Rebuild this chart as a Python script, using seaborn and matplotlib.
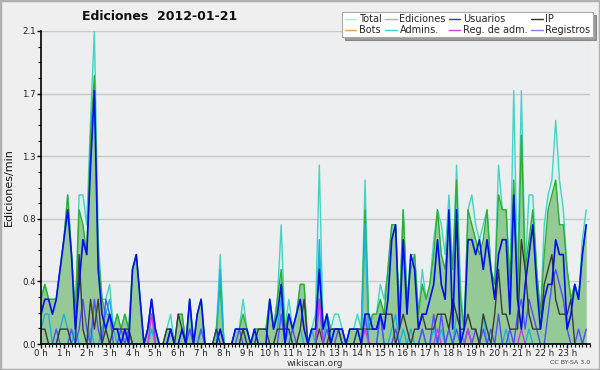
"""
Edits per minute on 2012-01-21 (wikiscan style), 10-minute buckets.
"""
import numpy as np
import pandas as pd
import matplotlib
matplotlib.use("Agg")
import matplotlib.pyplot as plt
import seaborn as sns
from matplotlib.lines import Line2D
from matplotlib.patches import Rectangle
from matplotlib.ticker import MultipleLocator, FixedLocator

sns.set_style("ticks")
plt.rcParams["font.family"] = ["DejaVu Sans"]

# ---------------------------------------------------------------
# data: edits/min, one value per 10 minutes (144 buckets)
# ---------------------------------------------------------------
hour_labels = [f"{h} h" for h in range(24)]
minutes = np.arange(0, 1440, 10)

total = [
    0.3, 0.4, 0.3, 0.3, 0.3, 0.5, 0.7, 1.0, 0.6, 0.2, 1.0, 1.0,
    0.8, 1.5, 2.1, 0.7, 0.3, 0.3, 0.4, 0.1, 0.2, 0.1, 0.2, 0.1,
    0.5, 0.6, 0.3, 0.0, 0.1, 0.3, 0.1, 0.0, 0.0, 0.1, 0.2, 0.0,
    0.2, 0.2, 0.0, 0.3, 0.0, 0.2, 0.3, 0.0, 0.0, 0.0, 0.1, 0.6,
    0.0, 0.0, 0.0, 0.1, 0.1, 0.3, 0.1, 0.0, 0.1, 0.1, 0.1, 0.1,
    0.3, 0.1, 0.3, 0.8, 0.1, 0.3, 0.1, 0.2, 0.4, 0.4, 0.0, 0.1,
    0.2, 1.2, 0.1, 0.2, 0.1, 0.2, 0.2, 0.1, 0.0, 0.1, 0.1, 0.2,
    0.1, 1.1, 0.1, 0.2, 0.2, 0.4, 0.3, 0.5, 0.8, 0.8, 0.2, 0.9,
    0.3, 0.6, 0.6, 0.2, 0.5, 0.3, 0.4, 0.7, 0.9, 0.8, 0.6, 1.0,
    0.5, 1.2, 0.4, 0.1, 0.9, 1.0, 0.8, 0.7, 0.8, 0.9, 0.5, 0.4,
    1.2, 0.9, 0.9, 0.4, 1.7, 0.4, 1.7, 0.5, 1.0, 1.0, 0.5, 0.2,
    0.8, 1.0, 1.1, 1.5, 1.1, 0.9, 0.5, 0.3, 0.4, 0.3, 0.7, 0.9,
]
ediciones = [
    0.3, 0.4, 0.3, 0.3, 0.3, 0.5, 0.7, 1.0, 0.6, 0.2, 0.9, 0.8,
    0.6, 1.4, 1.8, 0.6, 0.3, 0.2, 0.2, 0.1, 0.2, 0.1, 0.2, 0.1,
    0.5, 0.6, 0.3, 0.0, 0.1, 0.2, 0.1, 0.0, 0.0, 0.1, 0.1, 0.0,
    0.2, 0.2, 0.0, 0.3, 0.0, 0.2, 0.3, 0.0, 0.0, 0.0, 0.1, 0.4,
    0.0, 0.0, 0.0, 0.1, 0.1, 0.2, 0.1, 0.0, 0.1, 0.1, 0.1, 0.1,
    0.3, 0.1, 0.3, 0.5, 0.1, 0.2, 0.1, 0.2, 0.4, 0.4, 0.0, 0.1,
    0.1, 0.6, 0.1, 0.2, 0.1, 0.1, 0.1, 0.1, 0.0, 0.1, 0.1, 0.1,
    0.1, 0.9, 0.1, 0.2, 0.2, 0.3, 0.2, 0.5, 0.8, 0.8, 0.2, 0.9,
    0.3, 0.5, 0.6, 0.2, 0.4, 0.3, 0.4, 0.6, 0.9, 0.6, 0.5, 0.8,
    0.5, 1.1, 0.3, 0.1, 0.9, 0.8, 0.7, 0.6, 0.7, 0.9, 0.5, 0.4,
    1.0, 0.9, 0.9, 0.4, 1.1, 0.3, 1.4, 0.5, 0.7, 0.9, 0.5, 0.2,
    0.6, 0.9, 1.0, 1.1, 0.8, 0.8, 0.5, 0.3, 0.4, 0.3, 0.6, 0.8,
]
usuarios = [
    0.2, 0.3, 0.3, 0.2, 0.3, 0.5, 0.7, 0.9, 0.6, 0.1, 0.4, 0.7,
    0.6, 1.2, 1.7, 0.5, 0.2, 0.1, 0.2, 0.1, 0.1, 0.0, 0.1, 0.0,
    0.5, 0.6, 0.3, 0.0, 0.1, 0.3, 0.1, 0.0, 0.0, 0.0, 0.1, 0.0,
    0.0, 0.1, 0.0, 0.3, 0.0, 0.2, 0.3, 0.0, 0.0, 0.0, 0.0, 0.1,
    0.0, 0.0, 0.0, 0.1, 0.1, 0.1, 0.1, 0.0, 0.1, 0.0, 0.0, 0.0,
    0.3, 0.1, 0.2, 0.4, 0.0, 0.2, 0.1, 0.2, 0.3, 0.1, 0.0, 0.1,
    0.1, 0.5, 0.1, 0.2, 0.0, 0.1, 0.1, 0.1, 0.0, 0.1, 0.1, 0.1,
    0.0, 0.2, 0.2, 0.1, 0.1, 0.2, 0.1, 0.3, 0.7, 0.8, 0.1, 0.7,
    0.2, 0.6, 0.5, 0.1, 0.2, 0.2, 0.3, 0.4, 0.7, 0.4, 0.3, 0.9,
    0.1, 0.9, 0.0, 0.1, 0.7, 0.7, 0.6, 0.7, 0.5, 0.7, 0.5, 0.3,
    0.6, 0.7, 0.7, 0.2, 1.0, 0.3, 0.1, 0.4, 0.6, 0.8, 0.4, 0.1,
    0.3, 0.4, 0.4, 0.7, 0.6, 0.6, 0.1, 0.2, 0.4, 0.3, 0.6, 0.8,
]
ip = [
    0.1, 0.1, 0.0, 0.0, 0.0, 0.1, 0.1, 0.1, 0.0, 0.0, 0.6, 0.1,
    0.0, 0.3, 0.1, 0.3, 0.0, 0.1, 0.0, 0.1, 0.1, 0.1, 0.1, 0.1,
    0.0, 0.0, 0.0, 0.0, 0.0, 0.0, 0.0, 0.0, 0.0, 0.1, 0.1, 0.0,
    0.2, 0.1, 0.0, 0.0, 0.0, 0.0, 0.0, 0.0, 0.0, 0.0, 0.1, 0.0,
    0.0, 0.0, 0.0, 0.0, 0.0, 0.1, 0.0, 0.0, 0.0, 0.1, 0.1, 0.1,
    0.0, 0.0, 0.1, 0.1, 0.1, 0.1, 0.0, 0.0, 0.1, 0.3, 0.0, 0.0,
    0.0, 0.1, 0.0, 0.0, 0.1, 0.1, 0.1, 0.0, 0.0, 0.0, 0.0, 0.1,
    0.1, 0.1, 0.1, 0.1, 0.1, 0.2, 0.2, 0.2, 0.2, 0.0, 0.1, 0.2,
    0.1, 0.0, 0.1, 0.1, 0.2, 0.1, 0.1, 0.1, 0.2, 0.2, 0.2, 0.1,
    0.3, 0.2, 0.1, 0.1, 0.2, 0.1, 0.1, 0.0, 0.2, 0.1, 0.0, 0.2,
    0.5, 0.2, 0.2, 0.1, 0.1, 0.1, 0.7, 0.5, 0.2, 0.1, 0.1, 0.1,
    0.4, 0.5, 0.6, 0.3, 0.2, 0.2, 0.2, 0.3, 0.0, 0.0, 0.0, 0.0,
]
admins = [
    0.1, 0.2, 0.2, 0.0, 0.0, 0.1, 0.2, 0.1, 0.0, 0.1, 0.0, 0.0,
    0.0, 0.1, 0.0, 0.0, 0.1, 0.2, 0.3, 0.1, 0.0, 0.0, 0.0, 0.0,
    0.0, 0.0, 0.0, 0.0, 0.0, 0.1, 0.0, 0.0, 0.0, 0.0, 0.1, 0.0,
    0.0, 0.0, 0.0, 0.1, 0.0, 0.0, 0.1, 0.0, 0.0, 0.0, 0.0, 0.5,
    0.0, 0.0, 0.0, 0.0, 0.0, 0.1, 0.0, 0.0, 0.0, 0.0, 0.0, 0.0,
    0.0, 0.0, 0.1, 0.3, 0.0, 0.1, 0.0, 0.0, 0.1, 0.0, 0.0, 0.1,
    0.0, 0.7, 0.0, 0.2, 0.0, 0.1, 0.1, 0.0, 0.0, 0.0, 0.0, 0.1,
    0.0, 0.8, 0.0, 0.0, 0.0, 0.2, 0.0, 0.0, 0.1, 0.2, 0.0, 0.1,
    0.0, 0.1, 0.0, 0.0, 0.1, 0.0, 0.0, 0.1, 0.0, 0.1, 0.0, 0.1,
    0.0, 0.2, 0.1, 0.0, 0.1, 0.0, 0.0, 0.0, 0.2, 0.0, 0.0, 0.0,
    0.0, 0.0, 0.1, 0.0, 0.0, 0.0, 0.0, 0.0, 0.1, 0.0, 0.0, 0.0,
    0.0, 0.0, 0.0, 0.0, 0.0, 0.0, 0.0, 0.0, 0.0, 0.0, 0.0, 0.0,
]
reg_adm = [
    0.0, 0.0, 0.0, 0.0, 0.0, 0.0, 0.0, 0.0, 0.0, 0.0, 0.0, 0.0,
    0.0, 0.0, 0.0, 0.0, 0.0, 0.0, 0.0, 0.0, 0.0, 0.0, 0.0, 0.0,
    0.0, 0.0, 0.0, 0.0, 0.0, 0.2, 0.0, 0.0, 0.0, 0.0, 0.0, 0.0,
    0.0, 0.0, 0.0, 0.0, 0.0, 0.0, 0.0, 0.0, 0.0, 0.0, 0.0, 0.0,
    0.0, 0.0, 0.0, 0.0, 0.0, 0.0, 0.0, 0.0, 0.0, 0.0, 0.0, 0.0,
    0.0, 0.0, 0.0, 0.0, 0.0, 0.0, 0.0, 0.0, 0.0, 0.0, 0.0, 0.0,
    0.0, 0.3, 0.0, 0.0, 0.0, 0.0, 0.0, 0.0, 0.0, 0.0, 0.0, 0.0,
    0.0, 0.1, 0.0, 0.0, 0.0, 0.0, 0.0, 0.0, 0.0, 0.0, 0.0, 0.0,
    0.0, 0.0, 0.0, 0.0, 0.0, 0.0, 0.0, 0.0, 0.1, 0.0, 0.0, 0.0,
    0.0, 0.0, 0.0, 0.0, 0.1, 0.0, 0.0, 0.0, 0.0, 0.0, 0.0, 0.0,
    0.0, 0.0, 0.0, 0.0, 0.0, 0.0, 0.1, 0.0, 0.0, 0.0, 0.0, 0.0,
    0.0, 0.0, 0.0, 0.0, 0.0, 0.0, 0.0, 0.0, 0.0, 0.0, 0.0, 0.0,
]
registros = [
    0.0, 0.0, 0.0, 0.0, 0.1, 0.0, 0.0, 0.0, 0.1, 0.0, 0.1, 0.3,
    0.1, 0.0, 0.3, 0.1, 0.0, 0.3, 0.2, 0.0, 0.0, 0.1, 0.0, 0.1,
    0.0, 0.0, 0.0, 0.0, 0.1, 0.3, 0.0, 0.0, 0.0, 0.0, 0.1, 0.0,
    0.0, 0.0, 0.0, 0.1, 0.0, 0.0, 0.1, 0.0, 0.0, 0.0, 0.0, 0.1,
    0.0, 0.0, 0.0, 0.0, 0.1, 0.0, 0.0, 0.0, 0.0, 0.0, 0.0, 0.0,
    0.0, 0.0, 0.0, 0.2, 0.0, 0.0, 0.1, 0.0, 0.0, 0.0, 0.0, 0.0,
    0.0, 0.3, 0.0, 0.1, 0.0, 0.0, 0.1, 0.0, 0.0, 0.0, 0.0, 0.0,
    0.0, 0.2, 0.0, 0.0, 0.0, 0.2, 0.0, 0.0, 0.0, 0.1, 0.0, 0.0,
    0.0, 0.0, 0.0, 0.0, 0.1, 0.0, 0.0, 0.2, 0.0, 0.2, 0.0, 0.1,
    0.0, 0.1, 0.0, 0.0, 0.1, 0.0, 0.1, 0.0, 0.1, 0.0, 0.1, 0.0,
    0.2, 0.0, 0.0, 0.1, 0.0, 0.2, 0.3, 0.1, 0.3, 0.2, 0.1, 0.0,
    0.0, 0.2, 0.4, 0.5, 0.4, 0.3, 0.1, 0.0, 0.0, 0.1, 0.0, 0.1,
]

df = pd.DataFrame({
    "minute": minutes, "Total": total, "Ediciones": ediciones,
    "Usuarios": usuarios, "IP": ip, "Admins.": admins,
    "Reg. de adm.": reg_adm, "Registros": registros,
})

# ---------------------------------------------------------------
# figure
# ---------------------------------------------------------------
fig = plt.figure(figsize=(6, 3.7), dpi=100, facecolor="#efefef")
ax = fig.add_axes([41 / 600, 1 - 344 / 370, 549 / 600, 313 / 370])
ax.set_facecolor("#eceef0")

ax.fill_between(df["minute"], df["Total"], color="#daf1ed", lw=0, zorder=1)
ax.fill_between(df["minute"], df["Ediciones"], color="#95c995", lw=0, zorder=2)

line_styles = [
    ("Total", "#45d3c3", 1.0),
    ("Ediciones", "#2eae2e", 1.0),
    ("Admins.", "#18b4e0", 1.0),
    ("Registros", "#5050ff", 1.0),
    ("IP", "#3a3a3a", 1.0),
    ("Reg. de adm.", "#c83ce0", 1.0),
    ("Usuarios", "#0010e8", 1.2),
]
for z, (col, color, lw) in enumerate(line_styles):
    sns.lineplot(data=df, x="minute", y=col, ax=ax, color=color, lw=lw,
                 legend=False, zorder=3 + z)

ax.set_xlim(0, 1440)
ax.set_ylim(0, 2.1)

ax.xaxis.set_major_locator(FixedLocator(np.arange(0, 1440, 60)))
ax.set_xticklabels(hour_labels)
ax.xaxis.set_minor_locator(MultipleLocator(10))
ax.yaxis.set_major_locator(FixedLocator([0, 0.42, 0.84, 1.26, 1.68, 2.1]))
ax.set_yticklabels(["0.0", "0.4", "0.8", "1.3", "1.7", "2.1"])
ax.yaxis.set_minor_locator(MultipleLocator(0.105))
ax.tick_params(axis="both", which="major", labelsize=6.2, length=3,
               width=1, color="black", pad=0.8, labelcolor="#222222")
ax.tick_params(axis="both", which="minor", length=2.2, width=0.8, color="black")
ax.grid(axis="y", which="major", color="#c8c8c8", lw=1, zorder=0)
ax.set_axisbelow(True)

for s in ["top", "right"]:
    ax.spines[s].set_visible(False)
for s in ["left", "bottom"]:
    ax.spines[s].set_color("black")
    ax.spines[s].set_linewidth(1.2)
    ax.spines[s].set_zorder(20)

ax.set_xlabel("")
ax.set_ylabel("Ediciones/min", fontsize=8, labelpad=6, color="#111111")

fig.text(315 / 600, 1 - 363 / 370, "wikiscan.org", ha="center",
         va="center", fontsize=6.5, color="#333333")
fig.text(160 / 600, 1 - 17 / 370, "Ediciones  2012-01-21", ha="center",
         va="center", fontsize=9, fontweight="bold", color="#111111")
fig.text(590 / 600, 1 - 363 / 370, "CC BY-SA 3.0", ha="right",
         va="center", fontsize=4.5, color="#444444")

# legend
legend_items = [
    ("Total", "#a8e8e0"), ("Bots", "#f0a040"),
    ("Ediciones", "#88d088"), ("Admins.", "#40c8e0"),
    ("Usuarios", "#3030e0"), ("Reg. de adm.", "#d040e0"),
    ("IP", "#303030"), ("Registros", "#8080f0"),
]
handles = [Line2D([0], [0], color=c, lw=1) for _, c in legend_items]
leg = fig.legend(handles, [n for n, _ in legend_items], ncol=4,
                 loc="upper right", bbox_to_anchor=(593 / 600, 1 - 12 / 370),
                 fontsize=7, frameon=True, fancybox=False, shadow=True,
                 handlelength=1.2, handletextpad=0.3, columnspacing=0.3,
                 labelspacing=0.05, borderpad=0.25, borderaxespad=0)
leg.get_frame().set_facecolor("white")
leg.get_frame().set_edgecolor("#aaaaaa")
leg.get_frame().set_linewidth(0.8)

fig.patches.append(Rectangle((0, 0), 1, 1, transform=fig.transFigure,
                             fill=False, edgecolor="#b0b0b0", lw=2.5))

plt.savefig("out.png", dpi=100, facecolor=fig.get_facecolor())
plt.close()
